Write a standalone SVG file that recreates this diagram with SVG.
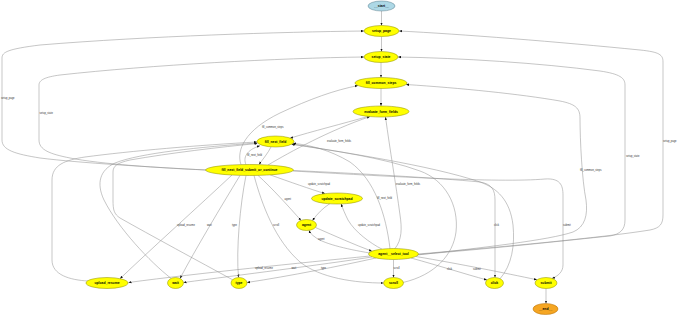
<svg xmlns="http://www.w3.org/2000/svg" width="680" height="315" viewBox="0 0 680 315">
<style>
.bg{fill:#ffffff}
.n ellipse{fill:#ffff00;stroke:#8a8a00;stroke-width:0.5}
#n_start ellipse{fill:#add8e6;stroke:#5a7f8c}
#n_end ellipse{fill:#f5a623;stroke:#b36b00}
.n text{font-family:'Liberation Sans',Arial,Helvetica,sans-serif;font-size:3.4px;font-weight:bold;fill:#000;text-anchor:middle}
.e path{fill:none;stroke:#8c8c8c;stroke-width:0.5;marker-end:url(#arr)}
.el text{font-family:'Liberation Sans',Arial,Helvetica,sans-serif;font-size:2.6px;fill:#333}
</style>
<defs>
<marker id="arr" viewBox="0 0 10 10" refX="10" refY="5" markerWidth="3" markerHeight="3" markerUnits="userSpaceOnUse" orient="auto">
<path d="M0,1 L10,5 L0,9 Z" fill="#111"/>
</marker>
</defs>
<rect class="bg" x="0" y="0" width="680" height="315"/>

<g id="connectors" class="e">
<path d="M381.5,11 L381.5,25.5"/>
<path d="M381.5,36.5 L381.5,51.5"/>
<path d="M381,62.5 L381,77.5"/>
<path d="M381,88.5 L381,106"/>
<path d="M368,116.5 C345,123 310,132 290,138.2"/>
<path d="M271,147 C268,153 263,159 259,164.5"/>
<path d="M246,164.6 C243,158 246,150 260,145.8"/>
<path d="M241,164.7 C236,150 245,130 280,113 C310,99 335,90 358,85.6"/>
<path d="M268,165 C290,152 330,130 370,116.6"/>
<path d="M270,174.8 C290,182 310,189 325,193.6"/>
<path d="M258,175.4 C272,188 290,208 301,220.4"/>
<path d="M232,175 C200,205 150,250 120,278.7"/>
<path d="M240,175.4 C222,205 195,250 180,278.5"/>
<path d="M246,175.5 C240,205 236,250 238.5,277.5"/>
<path d="M254,175.4 C262,205 275,240 300,262 C320,278 355,283 383.5,283"/>
<path d="M293,170.5 C350,173 440,178 480,182 C492,184 495,190 495,200 L495,277.5"/>
<path d="M293,171 C380,176 500,183 545,179 C560,178 563,185 563,195 L563,265 C563,272 558,276 552,278.4"/>
<path d="M206,170 C150,167 80,163 40,158 C15,154 2,150 2,140 L2,58 C2,52 8,49 40,45 C150,36 280,32 364,31"/>
<path d="M206,170 C160,168 100,164 70,158 C50,154 39,150 39,140 L39,85 C39,80 45,77 60,75 C150,65 280,58 364,57"/>
<path d="M418.5,254 C500,247 600,238 650,230 C660,228 663,224 663,215 L663,62 C663,55 660,52 640,50 C560,42 460,34 399,31"/>
<path d="M418,254.5 C500,248 570,240 610,236 C620,234 625,230 625,220 L625,85 C625,78 620,74 600,71 C540,63 460,58 398,57"/>
<path d="M417,255 C480,248 550,240 573,232 C585,227 588,215 586,200 C582,180 580,140 580,118 C580,108 575,104 560,101 C520,94 460,88 406,84.5"/>
<path d="M395,248.5 C402,240 402,228 400,215 C396,185 390,150 385.5,117"/>
<path d="M390,248.6 C386,215 375,180 350,162 C330,150 310,145 293,143.3"/>
<path d="M382,249.2 C370,243 355,232 348,220 C345,214 343,209 341,203.9"/>
<path d="M330,203.5 C323,208 317,214 312.5,220.6"/>
<path d="M315.5,227.5 C335,236 355,245 372,251.2"/>
<path d="M370,253 C345,249 322,243 315,237 C312,235 310,233 309,230.3"/>
<path d="M370,256 C300,263 200,273 128.5,282.5"/>
<path d="M372,257 C320,265 240,275 183.5,282.5"/>
<path d="M376,258 C340,266 290,276 247,282.5"/>
<path d="M393.5,259.5 L393.5,277.5"/>
<path d="M411,258 C440,266 465,274 487,280"/>
<path d="M416,256.5 C460,264 505,273 537,279.8"/>
<path d="M546,288.5 L546,303.5"/>
<path d="M88,281 C70,280 52,275 52,260 L52,180 C52,165 65,160 85,157 C130,151 200,145 257,142"/>
<path d="M171,278.3 C150,262 118,228 104,200 C96,183 100,170 115,163 C140,153 200,147 257.2,143"/>
<path d="M233,280 C200,262 150,235 120,218 C114,214 113,210 113,200 L113,172 C113,166 117,163 130,160 C170,153 220,147 257.5,143.5"/>
<path d="M403,282.5 C435,275 453,255 456,232 C459,205 445,180 420,171 C385,158 330,150 291.5,144.3"/>
<path d="M500,278.8 C512,265 515,245 513,225 C510,200 497,188 480,182 C430,165 340,152 292.5,144"/>
</g>

<g id="edge-labels" class="el" font-family="Liberation Sans, Arial, sans-serif">
<text x="1" y="99.4">setup_page</text>
<text x="39.5" y="113.9">setup_state</text>
<text x="262" y="128.4">fill_common_steps</text>
<text x="327" y="142.4">evaluate_form_fields</text>
<text x="247" y="156.4">fill_next_field</text>
<text x="308" y="185.4">update_scratchpad</text>
<text x="284.5" y="200.4">agent</text>
<text x="177" y="226.4">upload_resume</text>
<text x="207" y="226.4">wait</text>
<text x="232" y="226.4">type</text>
<text x="273" y="226.4">scroll</text>
<text x="494" y="226.4">click</text>
<text x="563" y="226.4">submit</text>
<text x="663" y="141.9">setup_page</text>
<text x="626" y="156.9">setup_state</text>
<text x="580" y="170.9">fill_common_steps</text>
<text x="396" y="184.9">evaluate_form_fields</text>
<text x="377" y="198.9">fill_next_field</text>
<text x="358" y="225.9">update_scratchpad</text>
<text x="318" y="239.9">agent</text>
<text x="255" y="268.9">upload_resume</text>
<text x="291.5" y="268.9">wait</text>
<text x="321" y="268.9">type</text>
<text x="393.5" y="268.9">scroll</text>
<text x="447" y="269.9">click</text>
<text x="473" y="269.9">submit</text>
</g>

<g id="n_start" class="n" font-family="Liberation Sans, Arial, sans-serif"><ellipse cx="381.5" cy="6" rx="13.5" ry="5"/><text x="381.5" y="7.2">__start__</text></g>
<g id="n_setup_page" class="n" font-family="Liberation Sans, Arial, sans-serif"><ellipse cx="381.5" cy="31" rx="17.5" ry="5.5"/><text x="381.5" y="32.2">setup_page</text></g>
<g id="n_setup_state" class="n" font-family="Liberation Sans, Arial, sans-serif"><ellipse cx="381" cy="57" rx="17" ry="5.5"/><text x="381" y="58.2">setup_state</text></g>
<g id="n_fill_common_steps" class="n" font-family="Liberation Sans, Arial, sans-serif"><ellipse cx="381" cy="83" rx="26" ry="5.5"/><text x="381" y="84.2">fill_common_steps</text></g>
<g id="n_evaluate_form_fields" class="n" font-family="Liberation Sans, Arial, sans-serif"><ellipse cx="381" cy="111.5" rx="28" ry="5.5"/><text x="381" y="112.7">evaluate_form_fields</text></g>
<g id="n_fill_next_field" class="n" font-family="Liberation Sans, Arial, sans-serif"><ellipse cx="275.5" cy="141.5" rx="18.5" ry="5.5"/><text x="275.5" y="142.7">fill_next_field</text></g>
<g id="n_fill_next_field_submit_or_continue" class="n" font-family="Liberation Sans, Arial, sans-serif"><ellipse cx="249.5" cy="170" rx="44" ry="5.5"/><text x="249.5" y="171.2">fill_next_field_submit_or_continue</text></g>
<g id="n_update_scratchpad" class="n" font-family="Liberation Sans, Arial, sans-serif"><ellipse cx="337" cy="198.5" rx="25.5" ry="5.5"/><text x="337" y="199.7">update_scratchpad</text></g>
<g id="n_agent" class="n" font-family="Liberation Sans, Arial, sans-serif"><ellipse cx="306.5" cy="225" rx="10" ry="5.5"/><text x="306.5" y="226.2">agent</text></g>
<g id="n_agent__select_tool" class="n" font-family="Liberation Sans, Arial, sans-serif"><ellipse cx="393.5" cy="254" rx="25" ry="5.5"/><text x="393.5" y="255.2">agent__select_tool</text></g>
<g id="n_upload_resume" class="n" font-family="Liberation Sans, Arial, sans-serif"><ellipse cx="107" cy="283" rx="21" ry="5.5"/><text x="107" y="284.2">upload_resume</text></g>
<g id="n_wait" class="n" font-family="Liberation Sans, Arial, sans-serif"><ellipse cx="175.5" cy="283" rx="8" ry="5.5"/><text x="175.5" y="284.2">wait</text></g>
<g id="n_type" class="n" font-family="Liberation Sans, Arial, sans-serif"><ellipse cx="239" cy="283" rx="8" ry="5.5"/><text x="239" y="284.2">type</text></g>
<g id="n_scroll" class="n" font-family="Liberation Sans, Arial, sans-serif"><ellipse cx="393.5" cy="283" rx="10" ry="5.5"/><text x="393.5" y="284.2">scroll</text></g>
<g id="n_click" class="n" font-family="Liberation Sans, Arial, sans-serif"><ellipse cx="494.5" cy="283" rx="9" ry="5.5"/><text x="494.5" y="284.2">click</text></g>
<g id="n_submit" class="n" font-family="Liberation Sans, Arial, sans-serif"><ellipse cx="546" cy="283" rx="11" ry="5.5"/><text x="546" y="284.2">submit</text></g>
<g id="n_end" class="n" font-family="Liberation Sans, Arial, sans-serif"><ellipse cx="545.5" cy="309" rx="12.5" ry="5.5"/><text x="545.5" y="310.2">__end__</text></g>
</svg>
